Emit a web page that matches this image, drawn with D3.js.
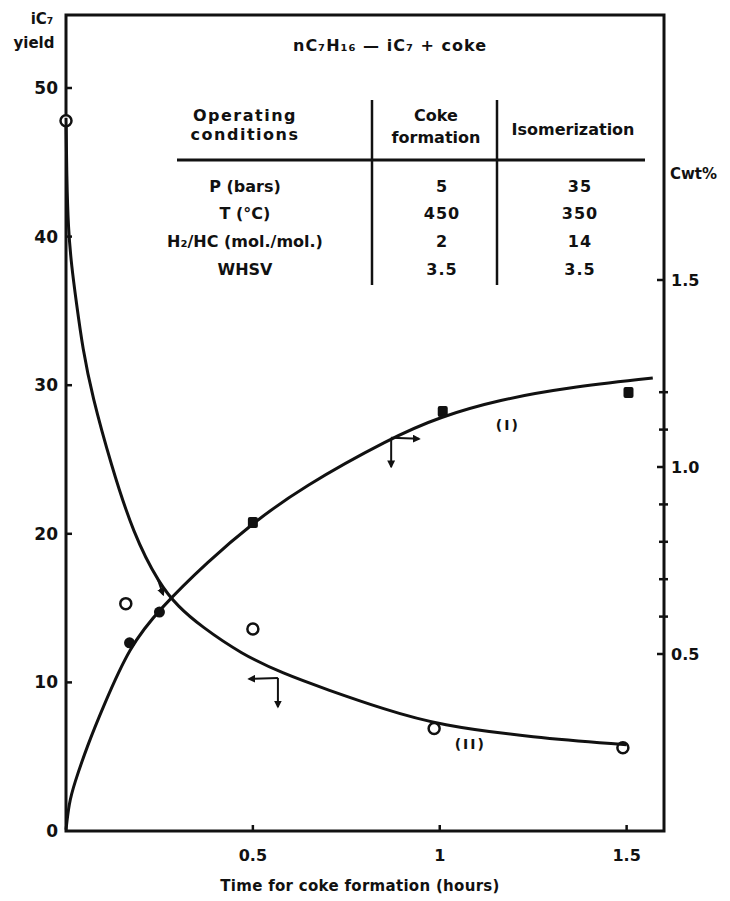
<!DOCTYPE html>
<html>
<head>
<meta charset="utf-8">
<script src="https://cdn.jsdelivr.net/npm/d3@7"></script>
<style>
  body { margin: 0; background: #fff; }
  text { font-family: "DejaVu Sans", sans-serif; font-weight: bold; fill: #111; }
</style>
</head>
<body>
<svg id="chart" width="730" height="901"></svg>
<script>
// time axis (hours) and tick labels
const xTicks = [0.5, 1, 1.5];
const yieldTicks = [0, 10, 20, 30, 40, 50];
const cokeTicks = [0.5, 1.0, 1.5];
const cokeMinor = [0.6, 0.7, 0.8, 0.9, 1.1, 1.2];

// curve (II): iC7 yield vs time, left axis
const yieldCurve = [[0, 48], [0.002, 44], [0.006, 40.5], [0.015, 38], [0.027, 35.7], [0.045, 32.4],
  [0.07, 29.3], [0.12, 24.7], [0.18, 20.0], [0.25, 16.6], [0.3, 15.1], [0.36, 13.8],
  [0.47, 11.9], [0.58, 10.6], [0.7, 9.5], [0.85, 8.2], [1.0, 7.1], [1.25, 6.3], [1.5, 5.8]];
const yieldPoints = [[0, 47.8], [0.16, 15.3], [0.5, 13.6], [0.985, 6.9], [1.49, 5.6]];

// curve (I): coke content (wt%) vs time, right axis
const cokeCurve = [[0, 0.03], [0.008, 0.1], [0.021, 0.15], [0.059, 0.26], [0.1, 0.36],
  [0.17, 0.52], [0.25, 0.62], [0.38, 0.748], [0.5, 0.85], [0.63, 0.945], [0.87, 1.078],
  [1.0, 1.134], [1.16, 1.18], [1.34, 1.212], [1.57, 1.238]];
const cokeCircles = [[0.17, 0.53], [0.25, 0.612]];
const cokeSquares = [[0.5, 0.85], [1.008, 1.147], [1.505, 1.198]];

// table
const tableTitle = "nC₇H₁₆ — iC₇ + coke";
const conditions = ["P (bars)", "T (°C)", "H₂/HC (mol./mol.)", "WHSV"];
const cokeFormation = ["5", "450", "2", "3.5"];
const isomerization = ["35", "350", "14", "3.5"];

const svg = d3.select("#chart");
const mLeft = 66, mRight = 664, mTop = 15, mBottom = 831;

const x = d3.scaleLinear().domain([0, 1.6]).range([mLeft, mRight]);
const yL = d3.scaleLinear().domain([0, 50]).range([mBottom, 88]);
const yR = d3.scaleLinear().domain([0, 1.5]).range([841, 280]);

svg.append("defs").append("marker")
  .attr("id", "head").attr("viewBox", "0 0 10 10")
  .attr("refX", 8).attr("refY", 5)
  .attr("markerWidth", 4).attr("markerHeight", 4)
  .attr("orient", "auto")
  .append("path").attr("d", "M0,0L10,5L0,10z").attr("fill", "#111");

// frame
svg.append("rect")
  .attr("x", mLeft).attr("y", mTop)
  .attr("width", mRight - mLeft).attr("height", mBottom - mTop)
  .attr("fill", "none").attr("stroke", "#111").attr("stroke-width", 3);

// left axis ticks
svg.append("g").selectAll("line").data(yieldTicks.filter(d => d > 0)).join("line")
  .attr("x1", mLeft).attr("x2", mLeft + 6)
  .attr("y1", d => yL(d)).attr("y2", d => yL(d))
  .attr("stroke", "#111").attr("stroke-width", 2.5);
svg.append("g").selectAll("text").data(yieldTicks).join("text")
  .attr("x", mLeft - 8).attr("y", d => yL(d) + 6)
  .attr("text-anchor", "end").attr("font-size", 17)
  .text(d => d);

// bottom axis ticks
svg.append("g").selectAll("line").data(xTicks).join("line")
  .attr("x1", d => x(d)).attr("x2", d => x(d))
  .attr("y1", mBottom).attr("y2", mBottom - 6)
  .attr("stroke", "#111").attr("stroke-width", 2.5);
svg.append("g").selectAll("text").data(xTicks).join("text")
  .attr("x", d => x(d)).attr("y", 861)
  .attr("text-anchor", "middle").attr("font-size", 16)
  .text(d => d);
svg.append("text").attr("x", 360).attr("y", 891)
  .attr("text-anchor", "middle").attr("font-size", 15).attr("letter-spacing", 0.3)
  .text("Time for coke formation (hours)");

// right axis ticks
svg.append("g").selectAll("line").data(cokeTicks).join("line")
  .attr("x1", mRight - 7).attr("x2", mRight)
  .attr("y1", d => yR(d)).attr("y2", d => yR(d))
  .attr("stroke", "#111").attr("stroke-width", 2.5);
svg.append("g").selectAll("line").data(cokeMinor).join("line")
  .attr("x1", mRight - 5).attr("x2", mRight + 4)
  .attr("y1", d => yR(d)).attr("y2", d => yR(d))
  .attr("stroke", "#111").attr("stroke-width", 2.5);
svg.append("g").selectAll("text").data(cokeTicks).join("text")
  .attr("x", mRight + 7).attr("y", d => yR(d) + 6)
  .attr("font-size", 16)
  .text(d => d.toFixed(1));

// axis names
svg.append("text").attr("x", 42).attr("y", 24).attr("text-anchor", "middle")
  .attr("font-size", 15).text("iC₇");
svg.append("text").attr("x", 34).attr("y", 48).attr("text-anchor", "middle")
  .attr("font-size", 15).text("yield");
svg.append("text").attr("x", mRight + 6).attr("y", 179)
  .attr("font-size", 15).text("Cwt%");

// table
svg.append("text").attr("x", 390).attr("y", 51).attr("text-anchor", "middle")
  .attr("font-size", 16).attr("letter-spacing", 1).text(tableTitle);
const th = svg.append("g").attr("font-size", 16).attr("text-anchor", "middle");
th.append("text").attr("x", 245).attr("y", 121).attr("letter-spacing", 1.5).text("Operating");
th.append("text").attr("x", 245).attr("y", 140).attr("letter-spacing", 1.5).text("conditions");
th.append("text").attr("x", 436).attr("y", 121).text("Coke");
th.append("text").attr("x", 436).attr("y", 143).text("formation");
th.append("text").attr("x", 573).attr("y", 135).text("Isomerization");
svg.append("line").attr("x1", 177).attr("x2", 645).attr("y1", 160).attr("y2", 160)
  .attr("stroke", "#111").attr("stroke-width", 3);
[372, 497].forEach(cx => svg.append("line")
  .attr("x1", cx).attr("x2", cx).attr("y1", 100).attr("y2", 285)
  .attr("stroke", "#111").attr("stroke-width", 2.5));
const rowY = [192, 219, 247, 275];
const tb = svg.append("g").attr("font-size", 16).attr("text-anchor", "middle");
tb.selectAll(".c").data(conditions).join("text").attr("class", "c")
  .attr("x", 245).attr("y", (d, i) => rowY[i]).text(d => d);
tb.selectAll(".k").data(cokeFormation).join("text").attr("class", "k")
  .attr("x", 442).attr("y", (d, i) => rowY[i]).attr("letter-spacing", 1).text(d => d);
tb.selectAll(".s").data(isomerization).join("text").attr("class", "s")
  .attr("x", 580).attr("y", (d, i) => rowY[i]).attr("letter-spacing", 1).text(d => d);

// open circles (II) under the curve
svg.append("g").selectAll("circle").data(yieldPoints).join("circle")
  .attr("cx", d => x(d[0])).attr("cy", d => yL(d[1])).attr("r", 5.5)
  .attr("fill", "#fff").attr("stroke", "#111").attr("stroke-width", 2.5);

// curves
const lineL = d3.line().x(d => x(d[0])).y(d => yL(d[1])).curve(d3.curveBasis);
const lineR = d3.line().x(d => x(d[0])).y(d => yR(d[1])).curve(d3.curveBasis);
svg.append("path").attr("d", lineL(yieldCurve))
  .attr("fill", "none").attr("stroke", "#111").attr("stroke-width", 3);
svg.append("path").attr("d", lineR(cokeCurve))
  .attr("fill", "none").attr("stroke", "#111").attr("stroke-width", 3);

// filled points (I)
svg.append("g").selectAll("circle").data(cokeCircles).join("circle")
  .attr("cx", d => x(d[0])).attr("cy", d => yR(d[1])).attr("r", 5.5).attr("fill", "#111");
svg.append("g").selectAll("rect").data(cokeSquares).join("rect")
  .attr("x", d => x(d[0]) - 5).attr("y", d => yR(d[1]) - 6)
  .attr("width", 10).attr("height", 11).attr("rx", 2).attr("fill", "#111");

// axis pointers
const arrows = [
  { px: x(0.87), py: yR(1.078), dx: 28 },
  { px: x(0.567), py: yL(10.3), dx: -29 }
];
arrows.forEach(a => {
  svg.append("line").attr("x1", a.px).attr("y1", a.py).attr("x2", a.px + a.dx).attr("y2", a.py + 1)
    .attr("stroke", "#111").attr("stroke-width", 2).attr("marker-end", "url(#head)");
  svg.append("line").attr("x1", a.px).attr("y1", a.py).attr("x2", a.px).attr("y2", a.py + 29)
    .attr("stroke", "#111").attr("stroke-width", 2).attr("marker-end", "url(#head)");
});
// small pointer on curve (II) just above the crossing
svg.append("line").attr("x1", x(0.245)).attr("y1", yL(17.0)).attr("x2", x(0.26)).attr("y2", yL(15.9))
  .attr("stroke", "#111").attr("stroke-width", 2).attr("marker-end", "url(#head)");

// curve labels
svg.append("text").attr("x", x(1.15)).attr("y", yR(1.1)).attr("font-size", 14)
  .attr("letter-spacing", 2).text("(I)");
svg.append("text").attr("x", x(1.04)).attr("y", yL(5.5)).attr("font-size", 14)
  .attr("letter-spacing", 2).text("(II)");
</script>
</body>
</html>
